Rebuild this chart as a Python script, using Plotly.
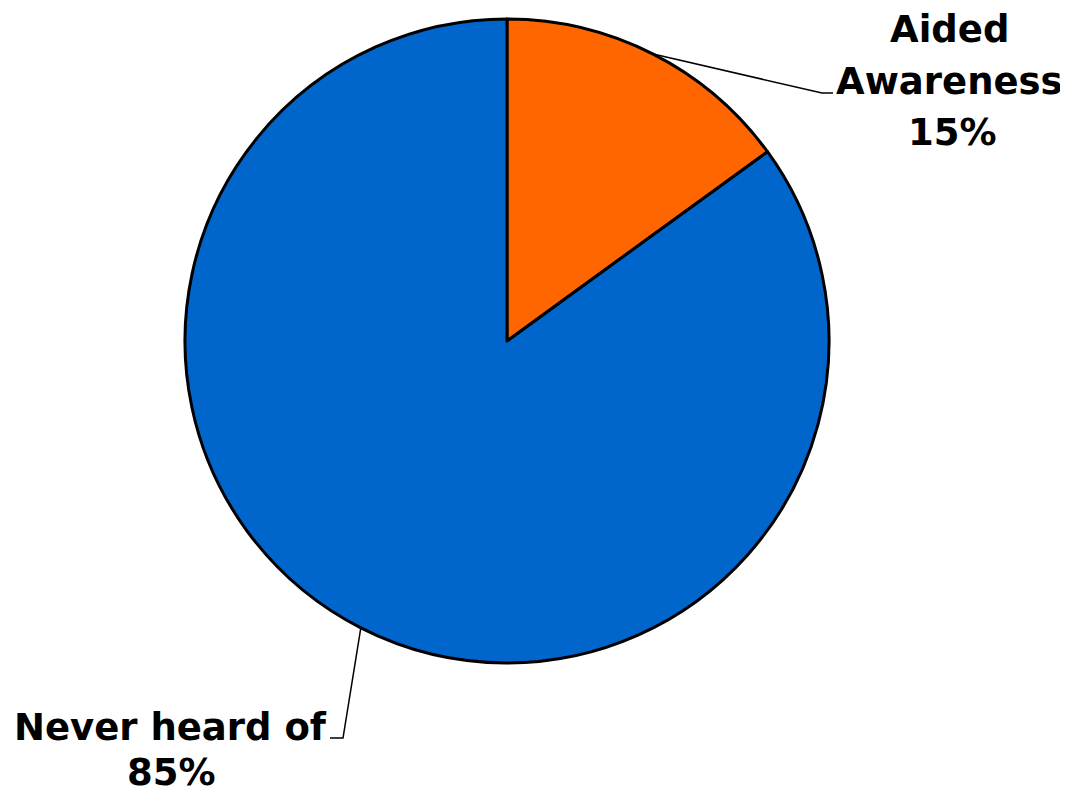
import math
import plotly.graph_objects as go

labels = ["Aided Awareness", "Never heard of"]
values = [15, 85]
colors = ["#FF6600", "#0066CC"]

W, H = 1068, 795
OFF = 8  # page body margin offset of the plot in the browser window
# pie placement (pixels in the window)
cx, cy, r = 507 - OFF, 341 - OFF, 322
dom_x = [(cx - r) / W, (cx + r) / W]
dom_y = [1 - (cy + r) / H, 1 - (cy - r) / H]

fig = go.Figure(go.Pie(
    labels=labels, values=values, sort=False, direction="clockwise", rotation=0,
    marker=dict(colors=colors, line=dict(color="black", width=3)),
    textinfo="none", hoverinfo="label+percent", showlegend=False,
    domain=dict(x=dom_x, y=dom_y),
))

font = dict(family="DejaVu Sans, Arial", size=37, color="black")
total = sum(values)
# label line positions (window pixels) and leader elbow positions
label_lines_pos = [
    [(949, 30), (949, 82), (952, 133)],
    [(170, 727), (171, 772)],
]
elbows = [((822, 93), (833, 93)), ((343, 738), (330, 738))]

shapes = []
annotations = []
cum = 0
for i, (lab, v) in enumerate(zip(labels, values)):
    mid = (cum + v / 2) / total * 2 * math.pi
    cum += v
    ex = cx + r * math.sin(mid)
    ey = cy - r * math.cos(mid)
    (bx, by), (tx, ty) = elbows[i]
    bx, by, tx, ty = bx - OFF, by - OFF, tx - OFF, ty - OFF
    path = f"M {ex/W} {1-ey/H} L {bx/W} {1-by/H} L {tx/W} {1-ty/H}"
    shapes.append(dict(type="path", xref="paper", yref="paper", path=path,
                       line=dict(color="black", width=1.5)))
    pct = round(v / total * 100)
    if i == 0:
        lines = ["Aided", "Awareness", f"{pct}%"]
    else:
        lines = [lab, f"{pct}%"]
    for txt, (lx, ly) in zip(lines, label_lines_pos[i]):
        lx, ly = lx - OFF, ly - OFF
        annotations.append(dict(x=lx / W, y=1 - ly / H, xref="paper", yref="paper",
                                text=f"<b>{txt}</b>", showarrow=False, font=font,
                                align="center", xanchor="center", yanchor="middle"))

fig.update_layout(
    width=W, height=H, margin=dict(l=0, r=0, t=0, b=0),
    paper_bgcolor="white", plot_bgcolor="white",
    shapes=shapes, annotations=annotations,
)
fig.write_html("out.html")
